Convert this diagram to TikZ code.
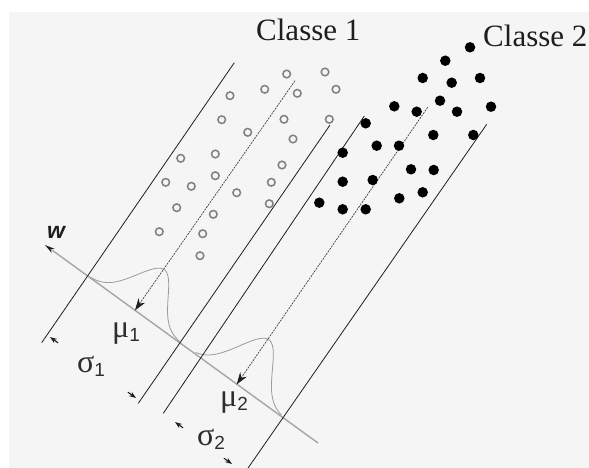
\documentclass[tikz,border=0pt]{standalone}
\usepackage{fontspec}
\setmainfont{Liberation Serif}
\newfontfamily\lsans{Liberation Sans}
\usetikzlibrary{arrows.meta}

\definecolor{bgcol}{RGB}{245,245,245}
\definecolor{inkcol}{RGB}{30,30,30}
\definecolor{ringcol}{RGB}{128,128,128}
\definecolor{axiscol}{RGB}{165,165,165}
\definecolor{bellcol}{RGB}{155,155,155}
\definecolor{greekcol}{RGB}{45,45,45}

\tikzset{
  edge/.style={draw=inkcol, line width=0.8pt},
  meanline/.style={draw=inkcol!85, line width=0.7pt, dash pattern=on 2pt off 1pt,
                   -{Stealth[length=12pt,width=8pt,color=inkcol]}},
  ring/.style={circle, draw=ringcol, line width=1.5pt, minimum size=7.6pt, inner sep=0pt},
  blob/.style={circle, fill=black, minimum size=10.5pt, inner sep=0pt},
  axisline/.style={draw=axiscol, line width=1.4pt},
  bell/.style={draw=bellcol, line width=0.8pt},
  dimtick/.style={draw=inkcol, line width=1.1pt, -{Stealth[length=7pt,width=5pt]}},
  greek/.style={text=greekcol, font=\fontsize{32}{32}\selectfont, inner sep=0pt, anchor=base west},
  classlabel/.style={text=inkcol, font=\fontsize{31}{31}\selectfont, inner sep=0pt, anchor=base west},
}
\newcommand{\subdigit}[1]{\raisebox{-4pt}{\lsans\fontsize{19}{19}\selectfont #1}}

\begin{document}
\begin{tikzpicture}[x=1pt,y=-1pt]
  % canvas
  \useasboundingbox (0,0) rectangle (589,468);
  \fill[white] (0,0) rectangle (589,468);
  \fill[bgcol] (9,12) rectangle (589,468);

  % end points of the class boundaries, means and projection axis
  \coordinate (A1) at (234.3,62.7);  \coordinate (A2) at (41.7,342.7);
  \coordinate (C1) at (330,125);     \coordinate (C2) at (138.3,403.3);
  \coordinate (D1) at (364.3,116);   \coordinate (D2) at (163.3,413.3);
  \coordinate (F1) at (486.7,124.3); \coordinate (F2) at (246.7,470);
  \coordinate (B1) at (295,80.7);    \coordinate (m1) at (135,310.3);
  \coordinate (E1) at (427.7,107.3); \coordinate (m2) at (236.7,384.4);
  \coordinate (wtip) at (45,245);    \coordinate (wend) at (318,443);

  % projection axis w
  \draw[axisline, -{Stealth[length=10pt,width=5pt,color=inkcol]}] (wend) -- (wtip);

  % projected class densities
  \draw[bell] plot[domain=-56:55, samples=80, variable=\t]
    ({135 + 0.811*\t + 0.585*50*exp(-\t*\t/722)}, {310.3 + 0.585*\t - 0.811*50*exp(-\t*\t/722)});
  \draw[bell] plot[domain=-52:54, samples=80, variable=\t]
    ({236.7 + 0.811*\t + 0.585*55*exp(-\t*\t/800)}, {384.4 + 0.585*\t - 0.811*55*exp(-\t*\t/800)});

  % class boundaries
  \draw[edge] (A1) -- (A2);
  \draw[edge] (C1) -- (C2);
  \draw[edge] (D1) -- (D2);
  \draw[edge] (F1) -- (F2);

  % class means projected onto w
  \draw[meanline] (B1) -- (m1);
  \draw[meanline] (E1) -- (m2);

  % class 1 samples
  \foreach \p [count=\i] in {(286.7,74),(325,72),(230,95.7),(264.7,89.3),(297.3,93.3),
      (336,89.3),(221.7,119.7),(284,119.3),(329.3,119.3),(247.7,132.3),(293,139),
      (180.7,158.3),(215.3,154),(282,165),(165.7,182.3),(191.3,186.3),(215.3,175.7),
      (271.3,182.3),(236.7,192.7),(269.3,203.7),(176.7,207.7),(213.3,214.3),
      (159.3,231.7),(202.7,233.7),(200,255.7)}
    \node[ring] (r\i) at \p {};

  % class 2 samples
  \foreach \p [count=\i] in {(470,47.3),(445.3,60.7),(422.7,78),(451.7,82.7),(480,78),
      (394.3,106.3),(416.7,111.7),(440,100.7),(457,111.7),(491,106.7),(365.7,123.3),
      (433.3,135),(473.3,135),(342.7,152.7),(376.7,145.7),(399,145.7),(342.7,181.7),
      (372.7,180),(411,169.3),(433.7,170),(319.3,202.7),(342.7,209.3),(365.7,209.3),
      (399.3,198.3),(422.7,192.3)}
    \node[blob] (b\i) at \p {};

  % spread markers
  \coordinate (s1a) at (58.1,342.9);  \coordinate (s1at) at (50,337);
  \coordinate (s1b) at (127.9,392.2); \coordinate (s1bt) at (136,398);
  \coordinate (s2a) at (183.1,427.9); \coordinate (s2at) at (175,422);
  \coordinate (s2b) at (223.9,458.2); \coordinate (s2bt) at (232,464);
  \draw[dimtick] (s1a) -- (s1at);
  \draw[dimtick] (s1b) -- (s1bt);
  \draw[dimtick] (s2a) -- (s2at);
  \draw[dimtick] (s2b) -- (s2bt);

  % labels
  \node[classlabel] (cl1) at (256,41) {Classe 1};
  \node[classlabel] (cl2) at (483,47) {Classe 2};
  \node[text=inkcol, font={\fontsize{23}{23}\lsans\bfseries\itshape}, inner sep=0pt] (wlab) at (56,232) {w};
  \node[greek] (mu1lab) at (112,337) {μ\subdigit{1}};
  \node[greek] (sg1lab) at (77,372) {σ\subdigit{1}};
  \node[greek] (mu2lab) at (220,406) {μ\subdigit{2}};
  \node[greek] (sg2lab) at (197,445) {σ\subdigit{2}};
\end{tikzpicture}
\end{document}
